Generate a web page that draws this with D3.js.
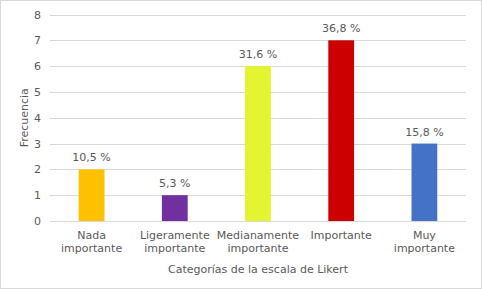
<!DOCTYPE html>
<html>
<head>
<meta charset="utf-8">
<script src="https://cdn.jsdelivr.net/npm/d3@7"></script>
<style>
  body { margin: 0; background: #fff; }
  text { font-family: "DejaVu Sans", Verdana, sans-serif; fill: #595959; }
</style>
</head>
<body>
<svg id="chart"></svg>
<script>
// data
let categories = [["Nada", "importante"], ["Ligeramente", "importante"], ["Medianamente", "importante"], ["Importante"], ["Muy", "importante"]]
let frecuencia = [2, 1, 6, 7, 3]
let porcentajes = ["10,5 %", "5,3 %", "31,6 %", "36,8 %", "15,8 %"]
let colores = ["#ffc000", "#7030a0", "#e2f530", "#cc0000", "#4472c4"]
let yTicks = [0, 1, 2, 3, 4, 5, 6, 7, 8]

let W = 482, H = 289
let plotLeft = 50, plotRight = 466, plotTop = 14.5, plotBottom = 221

let svg = d3.select("#chart").attr("width", W).attr("height", H)

// outer chart border
svg.append("rect")
    .attr("x", 0.5).attr("y", 0.5)
    .attr("width", W - 1).attr("height", H - 1)
    .attr("fill", "#fff").attr("stroke", "#d9d9d9")

let x = d3.scaleBand()
    .domain(d3.range(categories.length))
    .range([plotLeft, plotRight])
    .paddingInner(0.69).paddingOuter(0.345)

let y = d3.scaleLinear().domain([0, 8]).range([plotBottom, plotTop])

// gridlines
svg.selectAll(".grid")
    .data(yTicks)
    .enter().append("line")
    .attr("x1", plotLeft).attr("x2", plotRight)
    .attr("y1", d => Math.round(y(d)) + 0.5)
    .attr("y2", d => Math.round(y(d)) + 0.5)
    .attr("stroke", "#d9d9d9")

// y tick labels
svg.selectAll(".ytick")
    .data(yTicks)
    .enter().append("text")
    .attr("x", 41).attr("y", d => y(d) + 4)
    .attr("text-anchor", "end")
    .style("font-size", "11px")
    .text(d => d)

// bars
svg.selectAll(".bar")
    .data(frecuencia)
    .enter().append("rect")
    .attr("x", (d, i) => x(i))
    .attr("width", x.bandwidth())
    .attr("y", d => y(d))
    .attr("height", d => y(0) - y(d))
    .attr("fill", (d, i) => colores[i])

// data labels
svg.selectAll(".lbl")
    .data(frecuencia)
    .enter().append("text")
    .attr("x", (d, i) => x(i) + x.bandwidth() / 2)
    .attr("y", d => y(d) - 8)
    .attr("text-anchor", "middle")
    .style("font-size", "11px")
    .text((d, i) => porcentajes[i])

// category labels
let cat = svg.selectAll(".cat")
    .data(categories)
    .enter().append("text")
    .attr("text-anchor", "middle")
    .style("font-size", "11px")
cat.selectAll("tspan")
    .data((d, i) => d.map(t => ({ t: t, i: i })))
    .enter().append("tspan")
    .attr("x", d => x(d.i) + x.bandwidth() / 2)
    .attr("y", (d, j) => 239 + j * 13)
    .text(d => d.t)

// axis titles
svg.append("text")
    .attr("x", (plotLeft + plotRight) / 2).attr("y", 273)
    .attr("text-anchor", "middle")
    .style("font-size", "11px")
    .text("Categorías de la escala de Likert")

svg.append("text")
    .attr("transform", "translate(28," + ((plotTop + plotBottom) / 2) + ") rotate(-90)")
    .attr("text-anchor", "middle")
    .style("font-size", "11px")
    .text("Frecuencia")
</script>
</body>
</html>
